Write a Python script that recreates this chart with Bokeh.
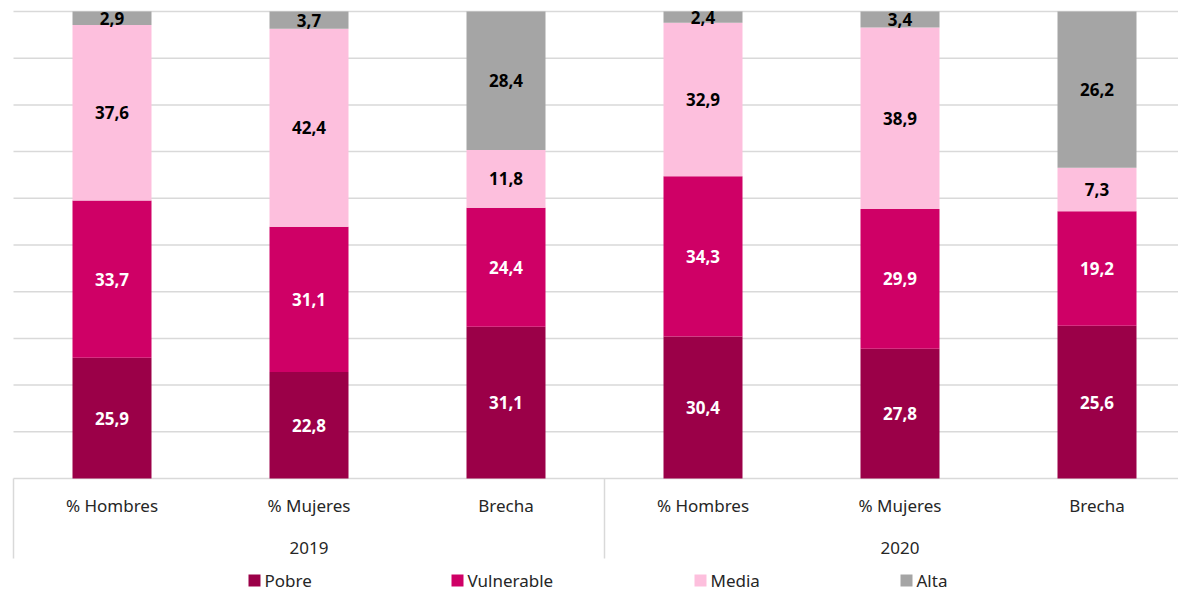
from bokeh.plotting import figure
from bokeh.models import ColumnDataSource, Range1d
from bokeh.core.properties import value
from bokeh.embed import file_html
from bokeh.resources import INLINE

# ---- data ----
years = ["2019", "2019", "2019", "2020", "2020", "2020"]
categories = ["% Hombres", "% Mujeres", "Brecha", "% Hombres", "% Mujeres", "Brecha"]
series_names = ["Pobre", "Vulnerable", "Media", "Alta"]
pobre = [25.9, 22.8, 31.1, 30.4, 27.8, 25.6]
vulnerable = [33.7, 31.1, 24.4, 34.3, 29.9, 19.2]
media = [37.6, 42.4, 11.8, 32.9, 38.9, 7.3]
alta = [2.9, 3.7, 28.4, 2.4, 3.4, 26.2]
grid_ticks = [10, 20, 30, 40, 50, 60, 70, 80, 90, 100]

colors = ["#9B0048", "#CF0066", "#FDBFDD", "#A5A5A5"]
label_colors = ["white", "white", "black", "black"]
FONT = "Noto Sans"

# ---- geometry (pixel layout helpers) ----
W, H = 1178, 592
cat_px = 197.0           # width of one category in px
left_px = 13.0           # distance of first category from figure left
ppu = 4.67               # px per percent
zero_px = 478.0          # y of 0% from figure top
top_px = 11.0            # y of 100% from figure top

x_start = -left_px / cat_px
x_end = (W - left_px) / cat_px
y_end = 100 + top_px / ppu
y_start = -(H - zero_px) / ppu


def ypx(px):
    return -(px - zero_px) / ppu


def xpx(px):
    return (px - left_px) / cat_px


p = figure(width=W, height=H, output_backend="svg", toolbar_location=None,
           x_range=Range1d(x_start, x_end), y_range=Range1d(y_start, y_end),
           min_border=0, min_border_left=0, min_border_right=0,
           min_border_top=0, min_border_bottom=0)
p.axis.visible = False
p.grid.visible = False
p.outline_line_color = None
p.background_fill_color = "white"
p.border_fill_color = "white"

n = len(categories)
xs = [i + 0.5 for i in range(n)]

# gridlines
p.segment(x0=[0] * len(grid_ticks), x1=[x_end + 1] * len(grid_ticks),
          y0=grid_ticks, y1=grid_ticks, line_color="#D9D9D9", line_width=1.5)
# axis line
p.segment(x0=[0], x1=[x_end + 1], y0=[0], y1=[0], line_color="#D9D9D9", line_width=1.5)
# group separators
sep_bottom = ypx(558)
p.segment(x0=[0, 3, 6], x1=[0, 3, 6], y0=[0, 0, 0], y1=[sep_bottom] * 3,
          line_color="#D9D9D9", line_width=1.5)

# stacked 100% bars
series = [pobre, vulnerable, media, alta]
totals = [sum(s[i] for s in series) for i in range(n)]
bottoms = [0.0] * n
for s, col, lc in zip(series, colors, label_colors):
    pct = [s[i] / totals[i] * 100 for i in range(n)]
    tops = [bottoms[i] + pct[i] for i in range(n)]
    src = ColumnDataSource(dict(
        x=xs, bottom=bottoms, top=tops,
        mid=[(bottoms[i] + tops[i]) / 2 for i in range(n)],
        lab=[f"{v:.1f}".replace(".", ",") for v in s]))
    p.vbar(x="x", bottom="bottom", top="top", width=79 / cat_px, source=src,
           fill_color=col, line_color=None)
    p.text(x="x", y="mid", text="lab", source=src, text_align="center",
           text_baseline="middle", text_font=value(FONT), text_font_size="17px",
           text_font_style="bold", text_color=lc)
    bottoms = tops

# category labels
p.text(x=xs, y=[ypx(505)] * n, text=categories, text_align="center", text_baseline="middle",
       text_font=value(FONT), text_font_size="17px", text_color="#262626")
# year labels
uniq_years = []
for y in years:
    if y not in uniq_years:
        uniq_years.append(y)
yr_x = []
for y in uniq_years:
    idx = [i for i, yy in enumerate(years) if yy == y]
    yr_x.append((min(idx) + max(idx) + 1) / 2)
p.text(x=yr_x, y=[ypx(547)] * len(uniq_years), text=uniq_years, text_align="center",
       text_baseline="middle", text_font=value(FONT), text_font_size="17px", text_color="#262626")

# legend
leg_px = [254, 457, 700, 906]
leg_y = ypx(580)
leg_x = [xpx(px) for px in leg_px]
p.scatter(x=leg_x, y=[leg_y] * 4, marker="square", size=12, fill_color=colors, line_color=None)
p.text(x=[lx + 10 / cat_px for lx in leg_x], y=[leg_y] * 4, text=series_names,
       text_align="left", text_baseline="middle", text_font=value(FONT),
       text_font_size="17px", text_color="#262626")

open("out.html", "w").write(file_html(p, INLINE))
